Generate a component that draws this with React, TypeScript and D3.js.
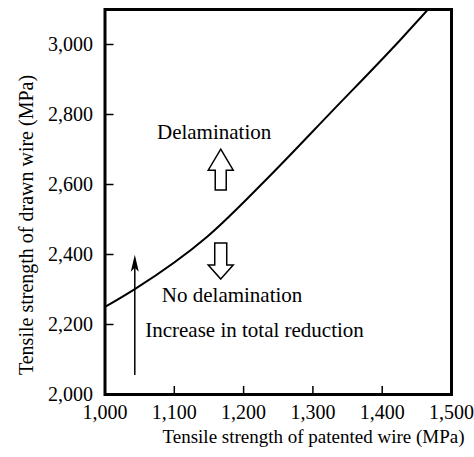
import React from "react";
import * as d3 from "d3";

// boundary curve (patented wire strength -> drawn wire strength)
const patentedMPa = [1000, 1043, 1147, 1242, 1325, 1426, 1466];
const drawnMPa = [2250, 2301, 2450, 2633, 2804, 3013, 3100];

const xTicks = [1000, 1100, 1200, 1300, 1400, 1500];
const yTicks = [2000, 2200, 2400, 2600, 2800, 3000];

const xLabel = "Tensile strength of patented wire (MPa)";
const yLabel = "Tensile strength of drawn wire (MPa)";

const W = 474;
const H = 457;
const FONT = "Liberation Serif, serif";

export default function App() {
  const x = d3.scaleLinear().domain([1000, 1500]).range([105, 451.5]);
  const y = d3.scaleLinear().domain([2000, 3100]).range([394.5, 9.5]);
  const fmt = d3.format(",");

  const pts = patentedMPa.map((v, i) => [v, drawnMPa[i]] as [number, number]);
  const line = d3
    .line<[number, number]>()
    .x((d) => x(d[0]))
    .y((d) => y(d[1]))
    .curve(d3.curveMonotoneX);

  // hollow block arrows
  const ax = x(1167);
  const upTip = y(2701);
  const upBase = y(2584);
  const upHead = upTip + 21;
  const upPath = `M${ax},${upTip} L${ax + 12.5},${upHead} L${ax + 5.5},${upHead} L${ax + 5.5},${upBase} L${ax - 5.5},${upBase} L${ax - 5.5},${upHead} L${ax - 12.5},${upHead} Z`;
  const dnTop = y(2433);
  const dnTip = y(2330);
  const dnHead = dnTip - 14;
  const dnPath = `M${ax},${dnTip} L${ax + 12.5},${dnHead} L${ax + 6},${dnHead} L${ax + 6},${dnTop} L${ax - 6},${dnTop} L${ax - 6},${dnHead} L${ax - 12.5},${dnHead} Z`;

  // thin arrow: increase in total reduction
  const tx = x(1043);
  const tTop = y(2399);
  const tBot = y(2056);

  return (
    <svg
      width={W}
      height={H}
      style={{ position: "absolute", left: 0, top: 0, fontFamily: FONT }}
    >
      <rect width={W} height={H} fill="#fff" />
      <defs>
        <clipPath id="plot">
          <rect x={105} y={9.5} width={346.5} height={385} />
        </clipPath>
      </defs>

      <path d={line(pts) ?? ""} fill="none" stroke="#000" strokeWidth={2} clipPath="url(#plot)" />

      {/* frame */}
      <rect x={105} y={9.5} width={346.5} height={385} fill="none" stroke="#000" strokeWidth={3} />

      {xTicks.map((t) => (
        <g key={"x" + t}>
          <line x1={x(t)} x2={x(t)} y1={394.5} y2={386} stroke="#000" strokeWidth={1.5} />
          <text x={x(t)} y={419} textAnchor="middle" fontSize={20}>
            {fmt(t)}
          </text>
        </g>
      ))}
      {yTicks.map((t) => (
        <g key={"y" + t}>
          <line x1={105} x2={113.5} y1={y(t)} y2={y(t)} stroke="#000" strokeWidth={1.5} />
          <text x={93} y={y(t) + 6} textAnchor="end" fontSize={20}>
            {fmt(t)}
          </text>
        </g>
      ))}

      <text x={313.5} y={443} textAnchor="middle" fontSize={19}>
        {xLabel}
      </text>
      <text transform={`translate(33, 225) rotate(-90)`} textAnchor="middle" fontSize={20}>
        {yLabel}
      </text>

      <text x={x(1075)} y={y(2730)} fontSize={21}>
        Delamination
      </text>
      <text x={x(1082)} y={y(2264)} fontSize={21}>
        No delamination
      </text>
      <text x={x(1058)} y={y(2164)} fontSize={21}>
        Increase in total reduction
      </text>

      <path d={upPath} fill="#fff" stroke="#000" strokeWidth={1.5} />
      <path d={dnPath} fill="#fff" stroke="#000" strokeWidth={1.5} />

      <line x1={tx} x2={tx} y1={tBot} y2={tTop + 6} stroke="#000" strokeWidth={1.5} />
      <path
        d={`M${tx},${tTop} L${tx + 4},${tTop + 17} L${tx},${tTop + 13} L${tx - 4},${tTop + 17} Z`}
        fill="#000"
      />
    </svg>
  );
}
